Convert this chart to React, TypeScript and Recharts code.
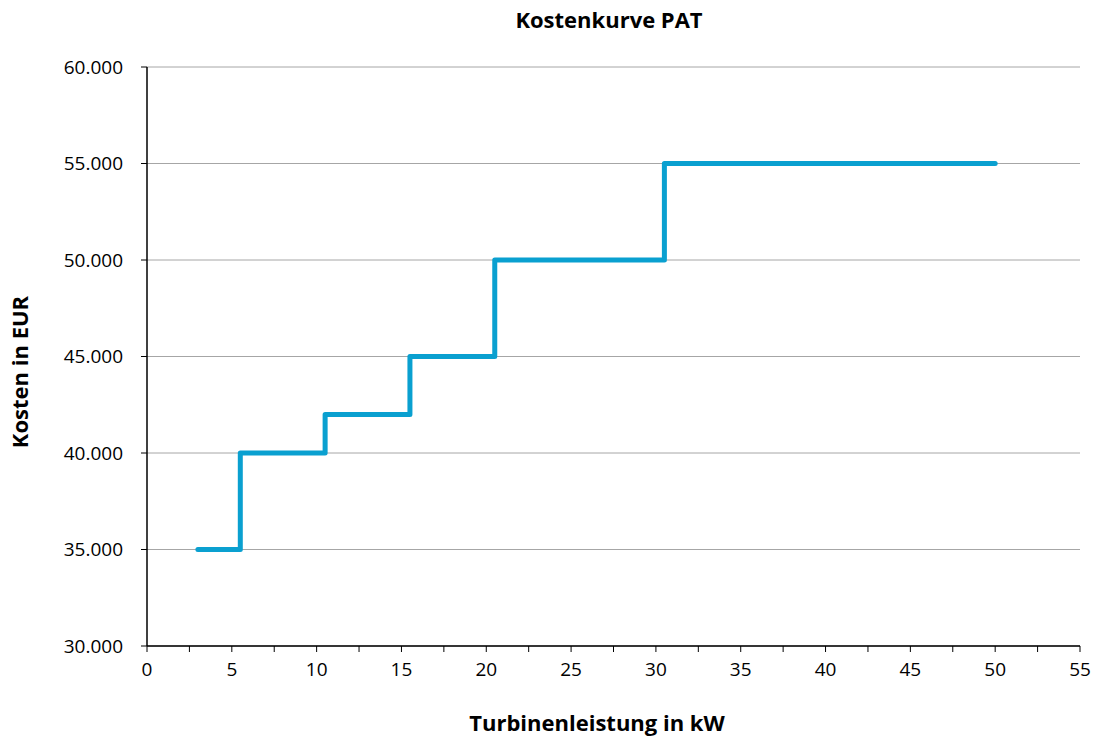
import React from "react";
import { LineChart, Line, XAxis, YAxis, CartesianGrid, Label } from "recharts";

const xValues = [3, 5.5, 5.5, 10.5, 10.5, 15.5, 15.5, 20.5, 20.5, 30.5, 30.5, 50];
const costValues = [35000, 35000, 40000, 40000, 42000, 42000, 45000, 45000, 50000, 50000, 55000, 55000];
const xTicks = [0, 2.5, 5, 7.5, 10, 12.5, 15, 17.5, 20, 22.5, 25, 27.5, 30, 32.5, 35, 37.5, 40, 42.5, 45, 47.5, 50, 52.5, 55];
const yTicks = [30000, 35000, 40000, 45000, 50000, 55000, 60000];

const data = xValues.map((x, i) => ({ x, cost: costValues[i] }));

const FONT = "'Open Sans', sans-serif";

const fmtY = (v: number) => {
  const s = String(Math.round(v));
  return s.replace(/\B(?=(\d{3})+(?!\d))/g, ".");
};
const fmtX = (v: number) => (v % 5 === 0 ? String(v) : "");

export default function App() {
  return (
    <div style={{ position: "absolute", left: 0, top: 0, width: 1094, height: 740, background: "#fff", fontFamily: FONT }}>
      <svg width={1094} height={40} style={{ position: "absolute", left: 0, top: 0 }}>
        <text x={609} y={28} textAnchor="middle" fontFamily={FONT} fontWeight="bold" fontSize={22} fill="#000">
          Kostenkurve PAT
        </text>
      </svg>
      <div style={{ position: "absolute", left: 0, top: 0 }}>
        <LineChart width={1094} height={740} data={data} margin={{ top: 67, right: 14, left: 0, bottom: 0 }}>
          <CartesianGrid horizontal={true} vertical={false} stroke="#a6a6a6" strokeWidth={1} />
          <XAxis
            dataKey="x"
            type="number"
            domain={[0, 55]}
            ticks={xTicks}
            interval={0}
            tickFormatter={fmtX}
            height={94}
            axisLine={{ stroke: "#000", strokeWidth: 1.5 }}
            tickLine={{ stroke: "#000" }}
            tickSize={6}
            tickMargin={11}
            tick={{ fill: "#000", fontSize: 19, fontFamily: FONT }}
          >
            <Label
              content={() => (
                <text x={597} y={731} textAnchor="middle" fontFamily={FONT} fontWeight="bold" fontSize={22} fill="#000">
                  Turbinenleistung in kW
                </text>
              )}
            />
          </XAxis>
          <YAxis
            type="number"
            domain={[30000, 60000]}
            ticks={yTicks}
            interval={0}
            tickFormatter={fmtY}
            width={147}
            axisLine={{ stroke: "#000", strokeWidth: 1.5 }}
            tickLine={{ stroke: "#000" }}
            tickSize={6}
            tickMargin={18}
            tick={{ fill: "#000", fontSize: 19, fontFamily: FONT }}
          >
            <Label
              content={() => (
                <text
                  x={28}
                  y={372}
                  transform="rotate(-90 28 372)"
                  textAnchor="middle"
                  fontFamily={FONT}
                  fontWeight="bold"
                  fontSize={22}
                  fill="#000"
                >
                  Kosten in EUR
                </text>
              )}
            />
          </YAxis>
          <Line
            type="linear"
            dataKey="cost"
            stroke="#0AA0D0"
            strokeWidth={5}
            dot={false}
            strokeLinecap="round"
            strokeLinejoin="round"
            isAnimationActive={false}
          />
        </LineChart>
      </div>
    </div>
  );
}
